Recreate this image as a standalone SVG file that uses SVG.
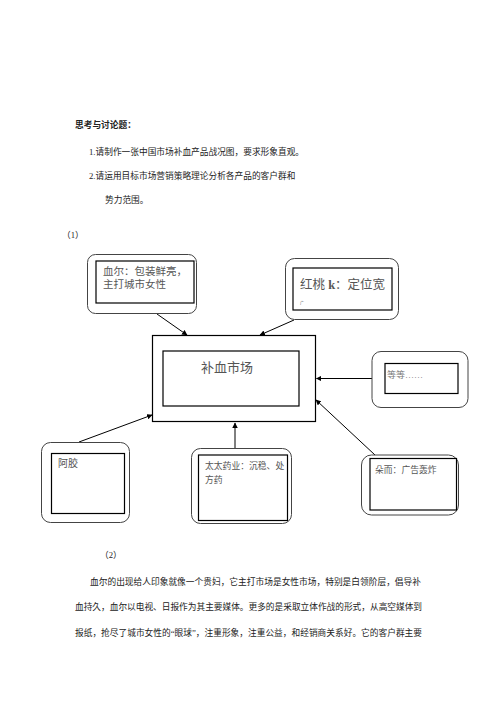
<svg xmlns="http://www.w3.org/2000/svg" width="496" height="702" viewBox="0 0 496 702">
<defs>
<style>
text{font-family:"Liberation Serif","Noto Sans CJK SC",serif;fill:#222}
.p{font-size:8.7px}
.b{font-weight:bold}
.bx{font-size:10px;fill:#555}
.outer{fill:none;stroke:#444;stroke-width:1}
.inner{fill:#fff;stroke:#000;stroke-width:1.2}
.main{fill:#fff;stroke:#000;stroke-width:1.2}
.ln{stroke:#000;stroke-width:1;fill:none;marker-end:url(#ah)}
</style>
<marker id="ah" viewBox="0 0 10 10" refX="9" refY="5" markerWidth="5.5" markerHeight="5.5" orient="auto" markerUnits="userSpaceOnUse">
<path d="M0,0 L10,5 L0,10 z" fill="#000"/>
</marker>
</defs>
<rect width="496" height="702" fill="#fff"/>

<g id="heading">
<text class="p b" x="75" y="128">思考与讨论题：</text>
<text class="p" x="89" y="155">1.请制作一张中国市场补血产品战况图，要求形象直观。</text>
<text class="p" x="89" y="179">2.请运用目标市场营销策略理论分析各产品的客户群和</text>
<text class="p" x="105" y="203">势力范围。</text>
<text class="p" x="62" y="238">（1）</text>
</g>

<g id="connectors">
<line class="ln" x1="157" y1="314" x2="187" y2="335"/>
<line class="ln" x1="294" y1="320" x2="260" y2="335"/>
<line class="ln" x1="372" y1="378.5" x2="316.5" y2="378.5"/>
<line class="ln" x1="375" y1="455" x2="316" y2="400"/>
<line class="ln" x1="235" y1="448" x2="235" y2="423"/>
<line class="ln" x1="79" y1="442" x2="152" y2="415"/>
</g>

<g id="node-xueer">
<rect class="outer" x="87.5" y="254.5" width="109" height="59" rx="8"/>
<rect class="inner" x="96" y="261" width="98" height="42"/>
<text class="bx" x="103" y="275" style="font-size:10.5px">血尔：包装鲜亮，</text>
<text class="bx" x="103" y="288" style="font-size:10.5px">主打城市女性</text>
</g>

<g id="node-hongtaok">
<rect class="outer" x="285.5" y="258.5" width="113" height="61" rx="9"/>
<rect class="inner" x="293" y="268" width="99" height="42"/>
<text class="bx" x="300" y="289" style="font-size:12.5px">红桃 <tspan font-weight="bold">k</tspan>：定位宽</text>
<text class="bx" x="300" y="305" style="font-size:4px">广</text>
</g>

<g id="node-main">
<rect class="main" x="152.5" y="335.5" width="163" height="86"/>
<rect class="main" x="163" y="351" width="136" height="55"/>
<text class="bx" x="201" y="372" style="font-size:13px">补血市场</text>
</g>

<g id="node-dengdeng">
<rect class="outer" x="372" y="351.5" width="96" height="56" rx="9"/>
<rect class="inner" x="385" y="363.5" width="73" height="30"/>
<text class="bx" x="387" y="378" style="font-size:9px;fill:#777">等等……</text>
</g>

<g id="node-ejiao">
<rect class="outer" x="41.5" y="442.5" width="88" height="80" rx="9"/>
<rect class="inner" x="51.5" y="453.5" width="73" height="60"/>
<text class="bx" x="58" y="467">阿胶</text>
</g>

<g id="node-taitai">
<rect class="outer" x="191.5" y="448.5" width="100" height="75" rx="9"/>
<rect class="inner" x="198.5" y="455" width="89" height="65.5"/>
<text class="bx" x="205" y="469" style="font-size:8.8px">太太药业：沉稳、处</text>
<text class="bx" x="205" y="483" style="font-size:8.8px">方药</text>
</g>

<g id="node-duoer">
<rect class="outer" x="361.5" y="455" width="97" height="60" rx="10"/>
<rect class="inner" x="370" y="458.5" width="86.5" height="51.5"/>
<text class="bx" x="375" y="473" style="font-size:8.8px">朵而：广告轰炸</text>
</g>

<g id="paragraph">
<text class="p" x="100" y="558">（2）</text>
<text class="p" x="90" y="585" textLength="331" lengthAdjust="spacingAndGlyphs">血尔的出现给人印象就像一个贵妇，它主打市场是女性市场，特别是白领阶层，倡导补</text>
<text class="p" x="75" y="610" textLength="347" lengthAdjust="spacingAndGlyphs">血持久，血尔以电视、日报作为其主要媒体。更多的是采取立体作战的形式，从高空媒体到</text>
<text class="p" x="75" y="636" textLength="347" lengthAdjust="spacingAndGlyphs">报纸，抢尽了城市女性的“眼球”，注重形象，注重公益，和经销商关系好。它的客户群主要</text>
</g>
</svg>
